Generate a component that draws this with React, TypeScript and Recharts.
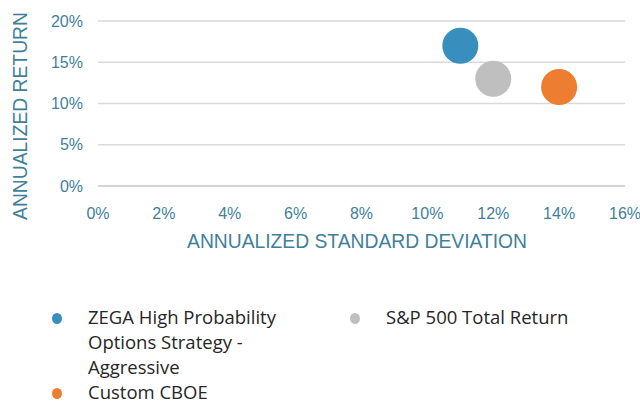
import { ScatterChart, Scatter, XAxis, YAxis, CartesianGrid, Label } from 'recharts';

const seriesNames = ['ZEGA High Probability Options Strategy - Aggressive', 'S&P 500 Total Return', 'Custom CBOE'];
const seriesColors = ['#388fbe', '#bfbfbf', '#ed7d31'];
const stdDev = [11, 12, 14];
const annReturn = [17, 13, 12];
const xTicks = [0, 2, 4, 6, 8, 10, 12, 14, 16];
const yTicks = [0, 5, 10, 15, 20];

const tickColor = '#3f7f9a';
const tickStyle = { fontSize: 16, fill: tickColor, fontFamily: '"Liberation Sans", Arial, sans-serif' };

const Bubble = (props: any) => {
  const { cx, cy, fill } = props;
  return <circle cx={cx} cy={cy} r={18} fill={fill} />;
};

export default function App() {
  return (
    <div style={{ position: 'absolute', left: 0, top: 0, width: 640, height: 401, background: '#fff', overflow: 'hidden' }}>
      <ScatterChart width={640} height={290} margin={{ top: 21, right: 15, bottom: 44, left: 0 }}>
        <CartesianGrid vertical={false} stroke="#d9d9d9" strokeWidth={1.5} />
        <XAxis
          type="number"
          dataKey="x"
          domain={[0, 16]}
          ticks={xTicks}
          tickFormatter={(v) => `${v}%`}
          axisLine={{ stroke: '#d0d0d0', strokeWidth: 1.5 }}
          tickLine={false}
          tickSize={0}
          tickMargin={22}
          height={60}
          tick={tickStyle}
          interval={0}
        >
          <Label
            content={() => (
              <text x={357} y={248} textAnchor="middle" fill={tickColor} fontSize={19.3} fontFamily='"Liberation Sans", Arial, sans-serif'>
                ANNUALIZED STANDARD DEVIATION
              </text>
            )}
          />
        </XAxis>
        <YAxis
          type="number"
          dataKey="y"
          domain={[0, 20]}
          ticks={yTicks}
          tickFormatter={(v) => `${v}%`}
          axisLine={false}
          tickLine={false}
          tickSize={0}
          tickMargin={15}
          width={98}
          tick={tickStyle}
          interval={0}
        >
          <Label
            content={() => (
              <text
                x={20}
                y={116}
                transform="rotate(-90 20 116)"
                textAnchor="middle"
                dominantBaseline="central"
                fill={tickColor}
                fontSize={19.3}
                fontFamily='"Liberation Sans", Arial, sans-serif'
              >
                ANNUALIZED RETURN
              </text>
            )}
          />
        </YAxis>
        {seriesNames.map((name, i) => (
          <Scatter
            key={name}
            name={name}
            data={[{ x: stdDev[i], y: annReturn[i] }]}
            fill={seriesColors[i]}
            shape={Bubble}
            isAnimationActive={false}
          />
        ))}
      </ScatterChart>
      <div
        style={{
          position: 'absolute',
          top: 304,
          left: 50,
          display: 'grid',
          gridTemplateColumns: '298px 298px',
          fontFamily: '"Open Sans", sans-serif',
          fontSize: 18.5,
          lineHeight: '25px',
          color: '#262626',
        }}
      >
        {seriesNames.map((name, i) => (
          <div key={name} style={{ display: 'flex', alignItems: 'flex-start' }}>
            <div style={{ width: 38, flexShrink: 0 }}>
              <div style={{ width: 10, height: 11, borderRadius: '50%', background: seriesColors[i], marginLeft: 2, marginTop: 9 }} />
            </div>
            <div style={{ width: 215 }}>{name}</div>
          </div>
        ))}
      </div>
    </div>
  );
}
